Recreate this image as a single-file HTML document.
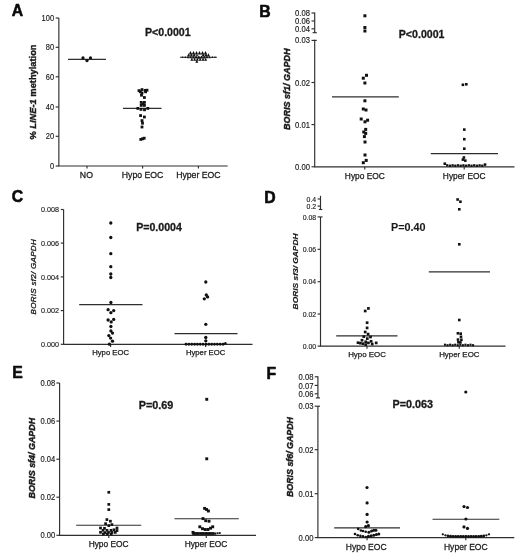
<!DOCTYPE html>
<html><head><meta charset="utf-8"><title>Figure</title>
<style>
html,body{margin:0;padding:0;background:#fff;}
body{width:520px;height:560px;overflow:hidden;font-family:"Liberation Sans",sans-serif;}
svg{display:block;will-change:transform;font-family:"Liberation Sans",sans-serif;}
</style></head><body>
<svg width="520" height="560" viewBox="0 0 520 560">
<rect width="520" height="560" fill="#ffffff"/>
<text transform="translate(11.80,15.90) scale(1,1.09)" font-size="15.8" font-weight="bold" fill="#0a0a0a" stroke="#0a0a0a" stroke-width="0.55" stroke-linejoin="round">A</text>
<line x1="58.85" y1="18.00" x2="58.85" y2="166.00" stroke="#2e2e2e" stroke-width="1.15"/>
<line x1="55.65" y1="18.00" x2="58.85" y2="18.00" stroke="#2e2e2e" stroke-width="1.15"/>
<text transform="translate(54.05,20.95) scale(0.91,1)" font-size="8.2" text-anchor="end" font-weight="normal" font-style="normal" fill="#1a1a1a" stroke="#1a1a1a" stroke-width="0.15" >100</text>
<line x1="55.65" y1="47.30" x2="58.85" y2="47.30" stroke="#2e2e2e" stroke-width="1.15"/>
<text transform="translate(54.05,50.25) scale(0.91,1)" font-size="8.2" text-anchor="end" font-weight="normal" font-style="normal" fill="#1a1a1a" stroke="#1a1a1a" stroke-width="0.15" >80</text>
<line x1="55.65" y1="76.80" x2="58.85" y2="76.80" stroke="#2e2e2e" stroke-width="1.15"/>
<text transform="translate(54.05,79.75) scale(0.91,1)" font-size="8.2" text-anchor="end" font-weight="normal" font-style="normal" fill="#1a1a1a" stroke="#1a1a1a" stroke-width="0.15" >60</text>
<line x1="55.65" y1="107.00" x2="58.85" y2="107.00" stroke="#2e2e2e" stroke-width="1.15"/>
<text transform="translate(54.05,109.95) scale(0.91,1)" font-size="8.2" text-anchor="end" font-weight="normal" font-style="normal" fill="#1a1a1a" stroke="#1a1a1a" stroke-width="0.15" >40</text>
<line x1="55.65" y1="136.30" x2="58.85" y2="136.30" stroke="#2e2e2e" stroke-width="1.15"/>
<text transform="translate(54.05,139.25) scale(0.91,1)" font-size="8.2" text-anchor="end" font-weight="normal" font-style="normal" fill="#1a1a1a" stroke="#1a1a1a" stroke-width="0.15" >20</text>
<line x1="55.65" y1="166.00" x2="58.85" y2="166.00" stroke="#2e2e2e" stroke-width="1.15"/>
<text transform="translate(54.05,168.95) scale(0.91,1)" font-size="8.2" text-anchor="end" font-weight="normal" font-style="normal" fill="#1a1a1a" stroke="#1a1a1a" stroke-width="0.15" >0</text>
<line x1="58.27" y1="166.00" x2="227.60" y2="166.00" stroke="#2e2e2e" stroke-width="1.15"/>
<line x1="87.00" y1="166.00" x2="87.00" y2="168.60" stroke="#2e2e2e" stroke-width="1.15"/>
<text transform="translate(86.40,177.50) scale(1.05,1)" font-size="8.3" text-anchor="middle" font-weight="normal" font-style="normal" fill="#1a1a1a" stroke="#1a1a1a" stroke-width="0.25" >NO</text>
<line x1="142.60" y1="166.00" x2="142.60" y2="168.60" stroke="#2e2e2e" stroke-width="1.15"/>
<text transform="translate(142.60,177.50) scale(1.05,1)" font-size="8.3" text-anchor="middle" font-weight="normal" font-style="normal" fill="#1a1a1a" stroke="#1a1a1a" stroke-width="0.25" >Hypo EOC</text>
<line x1="198.40" y1="166.00" x2="198.40" y2="168.60" stroke="#2e2e2e" stroke-width="1.15"/>
<text transform="translate(198.40,177.50) scale(1.05,1)" font-size="8.3" text-anchor="middle" font-weight="normal" font-style="normal" fill="#1a1a1a" stroke="#1a1a1a" stroke-width="0.25" >Hyper EOC</text>
<text transform="translate(35.55,92.00) rotate(-90) scale(1,1.0)" font-size="9.3" text-anchor="middle" font-weight="bold" font-style="normal" fill="#1a1a1a" stroke="#1a1a1a" stroke-width="0.4" >% <tspan font-style="italic">LINE-1</tspan> methylation</text>
<text transform="translate(145.00,35.60) scale(1.0,1)" font-size="10.6" text-anchor="start" font-weight="bold" font-style="normal" fill="#1a1a1a" stroke="#1a1a1a" stroke-width="0.3" >P&lt;0.0001</text>
<line x1="68.00" y1="59.40" x2="106.00" y2="59.40" stroke="#2e2e2e" stroke-width="1.15"/>
<line x1="123.00" y1="108.40" x2="161.50" y2="108.40" stroke="#2e2e2e" stroke-width="1.15"/>
<line x1="180.00" y1="57.20" x2="217.00" y2="57.20" stroke="#2e2e2e" stroke-width="1.15"/>
<circle cx="83.00" cy="57.90" r="1.65" fill="#111"/>
<circle cx="87.00" cy="60.60" r="1.65" fill="#111"/>
<circle cx="90.50" cy="57.90" r="1.65" fill="#111"/>
<rect x="138.90" y="90.40" width="2.8" height="2.8" fill="#111"/>
<rect x="144.20" y="90.40" width="2.8" height="2.8" fill="#111"/>
<rect x="137.60" y="89.20" width="2.8" height="2.8" fill="#111"/>
<rect x="140.60" y="88.20" width="2.8" height="2.8" fill="#111"/>
<rect x="143.80" y="89.00" width="2.8" height="2.8" fill="#111"/>
<rect x="145.60" y="88.80" width="2.8" height="2.8" fill="#111"/>
<rect x="140.60" y="91.60" width="2.8" height="2.8" fill="#111"/>
<rect x="140.10" y="93.80" width="2.8" height="2.8" fill="#111"/>
<rect x="143.00" y="96.10" width="2.8" height="2.8" fill="#111"/>
<rect x="139.80" y="101.00" width="2.8" height="2.8" fill="#111"/>
<rect x="143.00" y="101.00" width="2.8" height="2.8" fill="#111"/>
<rect x="139.80" y="104.00" width="2.8" height="2.8" fill="#111"/>
<rect x="143.00" y="104.00" width="2.8" height="2.8" fill="#111"/>
<rect x="141.40" y="102.50" width="2.8" height="2.8" fill="#111"/>
<rect x="136.40" y="107.00" width="2.8" height="2.8" fill="#111"/>
<rect x="146.40" y="107.00" width="2.8" height="2.8" fill="#111"/>
<rect x="139.60" y="108.00" width="2.8" height="2.8" fill="#111"/>
<rect x="143.10" y="108.40" width="2.8" height="2.8" fill="#111"/>
<rect x="139.20" y="114.20" width="2.8" height="2.8" fill="#111"/>
<rect x="143.00" y="115.60" width="2.8" height="2.8" fill="#111"/>
<rect x="140.60" y="119.20" width="2.8" height="2.8" fill="#111"/>
<rect x="141.10" y="121.80" width="2.8" height="2.8" fill="#111"/>
<rect x="140.60" y="125.60" width="2.8" height="2.8" fill="#111"/>
<rect x="139.40" y="138.00" width="2.8" height="2.8" fill="#111"/>
<rect x="142.80" y="136.80" width="2.8" height="2.8" fill="#111"/>
<rect x="141.10" y="137.40" width="2.8" height="2.8" fill="#111"/>
<path d="M188.80,54.40 L192.20,54.40 L190.50,51.00 Z" fill="#111"/>
<path d="M191.80,54.40 L195.20,54.40 L193.50,51.00 Z" fill="#111"/>
<path d="M194.80,54.40 L198.20,54.40 L196.50,51.00 Z" fill="#111"/>
<path d="M197.80,54.40 L201.20,54.40 L199.50,51.00 Z" fill="#111"/>
<path d="M200.80,54.40 L204.20,54.40 L202.50,51.00 Z" fill="#111"/>
<path d="M203.80,54.40 L207.20,54.40 L205.50,51.00 Z" fill="#111"/>
<path d="M187.00,56.50 L190.20,56.50 L188.60,53.30 Z" fill="#111"/>
<path d="M189.80,56.50 L193.00,56.50 L191.40,53.30 Z" fill="#111"/>
<path d="M192.60,56.50 L195.80,56.50 L194.20,53.30 Z" fill="#111"/>
<path d="M201.60,56.50 L204.80,56.50 L203.20,53.30 Z" fill="#111"/>
<path d="M204.40,56.50 L207.60,56.50 L206.00,53.30 Z" fill="#111"/>
<path d="M206.80,56.50 L210.00,56.50 L208.40,53.30 Z" fill="#111"/>
<path d="M195.90,56.30 L198.10,56.30 L197.00,54.10 Z" fill="#111"/>
<path d="M181.70,57.90 L183.50,57.90 L182.60,56.10 Z" fill="#111"/>
<path d="M184.27,58.03 L186.33,58.03 L185.30,55.97 Z" fill="#111"/>
<path d="M186.83,58.17 L189.17,58.17 L188.00,55.83 Z" fill="#111"/>
<path d="M189.40,58.30 L192.00,58.30 L190.70,55.70 Z" fill="#111"/>
<path d="M191.97,58.43 L194.83,58.43 L193.40,55.57 Z" fill="#111"/>
<path d="M194.53,58.57 L197.67,58.57 L196.10,55.43 Z" fill="#111"/>
<path d="M197.10,58.70 L200.50,58.70 L198.80,55.30 Z" fill="#111"/>
<path d="M199.93,58.57 L203.07,58.57 L201.50,55.43 Z" fill="#111"/>
<path d="M202.77,58.43 L205.63,58.43 L204.20,55.57 Z" fill="#111"/>
<path d="M205.60,58.30 L208.20,58.30 L206.90,55.70 Z" fill="#111"/>
<path d="M208.43,58.17 L210.77,58.17 L209.60,55.83 Z" fill="#111"/>
<path d="M211.27,58.03 L213.33,58.03 L212.30,55.97 Z" fill="#111"/>
<path d="M214.10,57.90 L215.90,57.90 L215.00,56.10 Z" fill="#111"/>
<path d="M190.30,60.70 L193.30,60.70 L191.80,57.70 Z" fill="#111"/>
<path d="M193.10,60.70 L196.10,60.70 L194.60,57.70 Z" fill="#111"/>
<path d="M195.90,60.70 L198.90,60.70 L197.40,57.70 Z" fill="#111"/>
<path d="M198.70,60.70 L201.70,60.70 L200.20,57.70 Z" fill="#111"/>
<path d="M201.50,60.70 L204.50,60.70 L203.00,57.70 Z" fill="#111"/>
<path d="M204.10,60.70 L207.10,60.70 L205.60,57.70 Z" fill="#111"/>
<path d="M195.30,62.80 L198.30,62.80 L196.80,59.80 Z" fill="#111"/>
<text transform="translate(259.30,16.80) scale(1,1.09)" font-size="15.8" font-weight="bold" fill="#0a0a0a" stroke="#0a0a0a" stroke-width="0.55" stroke-linejoin="round">B</text>
<line x1="314.70" y1="12.40" x2="314.70" y2="32.70" stroke="#2e2e2e" stroke-width="1.15"/>
<line x1="314.70" y1="39.80" x2="314.70" y2="166.80" stroke="#2e2e2e" stroke-width="1.15"/>
<line x1="311.50" y1="13.00" x2="314.70" y2="13.00" stroke="#2e2e2e" stroke-width="1.15"/>
<text transform="translate(309.90,16.02) scale(0.91,1)" font-size="8.4" text-anchor="end" font-weight="normal" font-style="normal" fill="#1a1a1a" stroke="#1a1a1a" stroke-width="0.15" >0.08</text>
<line x1="311.50" y1="21.00" x2="314.70" y2="21.00" stroke="#2e2e2e" stroke-width="1.15"/>
<text transform="translate(309.90,24.02) scale(0.91,1)" font-size="8.4" text-anchor="end" font-weight="normal" font-style="normal" fill="#1a1a1a" stroke="#1a1a1a" stroke-width="0.15" >0.06</text>
<line x1="311.50" y1="28.80" x2="314.70" y2="28.80" stroke="#2e2e2e" stroke-width="1.15"/>
<text transform="translate(309.90,31.82) scale(0.91,1)" font-size="8.4" text-anchor="end" font-weight="normal" font-style="normal" fill="#1a1a1a" stroke="#1a1a1a" stroke-width="0.15" >0.04</text>
<line x1="311.50" y1="40.40" x2="314.70" y2="40.40" stroke="#2e2e2e" stroke-width="1.15"/>
<text transform="translate(309.90,43.42) scale(0.91,1)" font-size="8.4" text-anchor="end" font-weight="normal" font-style="normal" fill="#1a1a1a" stroke="#1a1a1a" stroke-width="0.15" >0.03</text>
<line x1="311.50" y1="82.50" x2="314.70" y2="82.50" stroke="#2e2e2e" stroke-width="1.15"/>
<text transform="translate(309.90,85.52) scale(0.91,1)" font-size="8.4" text-anchor="end" font-weight="normal" font-style="normal" fill="#1a1a1a" stroke="#1a1a1a" stroke-width="0.15" >0.02</text>
<line x1="311.50" y1="124.60" x2="314.70" y2="124.60" stroke="#2e2e2e" stroke-width="1.15"/>
<text transform="translate(309.90,127.62) scale(0.91,1)" font-size="8.4" text-anchor="end" font-weight="normal" font-style="normal" fill="#1a1a1a" stroke="#1a1a1a" stroke-width="0.15" >0.01</text>
<line x1="311.50" y1="166.80" x2="314.70" y2="166.80" stroke="#2e2e2e" stroke-width="1.15"/>
<text transform="translate(309.90,169.82) scale(0.91,1)" font-size="8.4" text-anchor="end" font-weight="normal" font-style="normal" fill="#1a1a1a" stroke="#1a1a1a" stroke-width="0.15" >0.00</text>
<line x1="312.60" y1="32.70" x2="316.80" y2="32.70" stroke="#2e2e2e" stroke-width="1.15"/>
<line x1="314.70" y1="40.40" x2="316.80" y2="40.40" stroke="#2e2e2e" stroke-width="1.15"/>
<line x1="314.12" y1="166.80" x2="514.50" y2="166.80" stroke="#2e2e2e" stroke-width="1.15"/>
<line x1="364.80" y1="166.80" x2="364.80" y2="169.40" stroke="#2e2e2e" stroke-width="1.15"/>
<text transform="translate(364.80,178.70) scale(1.0,1)" font-size="8.35" text-anchor="middle" font-weight="normal" font-style="normal" fill="#1a1a1a" stroke="#1a1a1a" stroke-width="0.25" >Hypo EOC</text>
<line x1="464.20" y1="166.80" x2="464.20" y2="169.40" stroke="#2e2e2e" stroke-width="1.15"/>
<text transform="translate(464.20,178.70) scale(1.0,1)" font-size="8.35" text-anchor="middle" font-weight="normal" font-style="normal" fill="#1a1a1a" stroke="#1a1a1a" stroke-width="0.25" >Hyper EOC</text>
<text transform="translate(289.71,89.20) rotate(-90) scale(1,0.93)" font-size="9.0" text-anchor="middle" font-weight="bold" font-style="italic" fill="#1a1a1a" stroke="#1a1a1a" stroke-width="0.45" >BORIS sf1/ GAPDH</text>
<text transform="translate(398.80,38.00) scale(1.0,1)" font-size="10.6" text-anchor="start" font-weight="bold" font-style="normal" fill="#1a1a1a" stroke="#1a1a1a" stroke-width="0.3" >P&lt;0.0001</text>
<line x1="332.00" y1="96.80" x2="398.80" y2="96.80" stroke="#2e2e2e" stroke-width="1.15"/>
<line x1="430.80" y1="153.60" x2="498.00" y2="153.60" stroke="#2e2e2e" stroke-width="1.15"/>
<rect x="363.40" y="14.30" width="3.0" height="3.0" fill="#111"/>
<rect x="363.40" y="26.00" width="3.0" height="3.0" fill="#111"/>
<rect x="363.40" y="29.50" width="3.0" height="3.0" fill="#111"/>
<rect x="365.00" y="73.80" width="3.0" height="3.0" fill="#111"/>
<rect x="361.80" y="76.70" width="3.0" height="3.0" fill="#111"/>
<rect x="363.40" y="81.50" width="3.0" height="3.0" fill="#111"/>
<rect x="363.40" y="99.30" width="3.0" height="3.0" fill="#111"/>
<rect x="361.80" y="107.50" width="3.0" height="3.0" fill="#111"/>
<rect x="364.50" y="108.50" width="3.0" height="3.0" fill="#111"/>
<rect x="359.70" y="117.50" width="3.0" height="3.0" fill="#111"/>
<rect x="366.10" y="118.70" width="3.0" height="3.0" fill="#111"/>
<rect x="363.50" y="120.30" width="3.0" height="3.0" fill="#111"/>
<rect x="364.20" y="127.90" width="3.0" height="3.0" fill="#111"/>
<rect x="362.30" y="130.50" width="3.0" height="3.0" fill="#111"/>
<rect x="364.20" y="131.90" width="3.0" height="3.0" fill="#111"/>
<rect x="362.90" y="135.10" width="3.0" height="3.0" fill="#111"/>
<rect x="363.50" y="140.50" width="3.0" height="3.0" fill="#111"/>
<rect x="363.50" y="153.50" width="3.0" height="3.0" fill="#111"/>
<rect x="364.70" y="158.90" width="3.0" height="3.0" fill="#111"/>
<rect x="361.80" y="161.20" width="3.0" height="3.0" fill="#111"/>
<rect x="461.60" y="83.50" width="2.6" height="2.6" fill="#111"/>
<rect x="465.00" y="83.00" width="2.6" height="2.6" fill="#111"/>
<rect x="463.00" y="128.30" width="2.6" height="2.6" fill="#111"/>
<rect x="463.00" y="137.90" width="2.6" height="2.6" fill="#111"/>
<rect x="463.00" y="147.40" width="2.6" height="2.6" fill="#111"/>
<rect x="462.60" y="156.20" width="2.6" height="2.6" fill="#111"/>
<rect x="461.60" y="158.30" width="2.6" height="2.6" fill="#111"/>
<rect x="464.00" y="159.30" width="2.6" height="2.6" fill="#111"/>
<rect x="443.50" y="162.40" width="2.6" height="2.6" fill="#111"/>
<rect x="483.70" y="163.30" width="2.6" height="2.6" fill="#111"/>
<rect x="446.05" y="164.20" width="2.3" height="2.3" fill="#111"/>
<rect x="448.75" y="164.60" width="2.3" height="2.3" fill="#111"/>
<rect x="451.45" y="164.20" width="2.3" height="2.3" fill="#111"/>
<rect x="454.15" y="164.60" width="2.3" height="2.3" fill="#111"/>
<rect x="456.85" y="164.20" width="2.3" height="2.3" fill="#111"/>
<rect x="459.55" y="164.60" width="2.3" height="2.3" fill="#111"/>
<rect x="462.25" y="164.20" width="2.3" height="2.3" fill="#111"/>
<rect x="464.95" y="164.60" width="2.3" height="2.3" fill="#111"/>
<rect x="467.65" y="164.20" width="2.3" height="2.3" fill="#111"/>
<rect x="470.35" y="164.60" width="2.3" height="2.3" fill="#111"/>
<rect x="473.05" y="164.20" width="2.3" height="2.3" fill="#111"/>
<rect x="475.75" y="164.60" width="2.3" height="2.3" fill="#111"/>
<rect x="478.45" y="164.20" width="2.3" height="2.3" fill="#111"/>
<rect x="481.15" y="164.60" width="2.3" height="2.3" fill="#111"/>
<text transform="translate(11.80,201.70) scale(1,1.09)" font-size="15.8" font-weight="bold" fill="#0a0a0a" stroke="#0a0a0a" stroke-width="0.55" stroke-linejoin="round">C</text>
<line x1="63.60" y1="209.50" x2="63.60" y2="344.30" stroke="#2e2e2e" stroke-width="1.15"/>
<line x1="60.80" y1="209.50" x2="63.60" y2="209.50" stroke="#2e2e2e" stroke-width="1.15"/>
<text transform="translate(58.90,212.38) scale(0.9,1)" font-size="8.0" text-anchor="end" font-weight="normal" font-style="normal" fill="#1a1a1a" stroke="#1a1a1a" stroke-width="0.15" >0.008</text>
<line x1="60.80" y1="243.10" x2="63.60" y2="243.10" stroke="#2e2e2e" stroke-width="1.15"/>
<text transform="translate(58.90,245.98) scale(0.9,1)" font-size="8.0" text-anchor="end" font-weight="normal" font-style="normal" fill="#1a1a1a" stroke="#1a1a1a" stroke-width="0.15" >0.006</text>
<line x1="60.80" y1="276.90" x2="63.60" y2="276.90" stroke="#2e2e2e" stroke-width="1.15"/>
<text transform="translate(58.90,279.78) scale(0.9,1)" font-size="8.0" text-anchor="end" font-weight="normal" font-style="normal" fill="#1a1a1a" stroke="#1a1a1a" stroke-width="0.15" >0.004</text>
<line x1="60.80" y1="310.60" x2="63.60" y2="310.60" stroke="#2e2e2e" stroke-width="1.15"/>
<text transform="translate(58.90,313.48) scale(0.9,1)" font-size="8.0" text-anchor="end" font-weight="normal" font-style="normal" fill="#1a1a1a" stroke="#1a1a1a" stroke-width="0.15" >0.002</text>
<line x1="60.80" y1="344.30" x2="63.60" y2="344.30" stroke="#2e2e2e" stroke-width="1.15"/>
<text transform="translate(58.90,347.18) scale(0.9,1)" font-size="8.0" text-anchor="end" font-weight="normal" font-style="normal" fill="#1a1a1a" stroke="#1a1a1a" stroke-width="0.15" >0.000</text>
<line x1="63.12" y1="344.40" x2="252.50" y2="344.40" stroke="#2e2e2e" stroke-width="1.15"/>
<line x1="110.60" y1="344.40" x2="110.60" y2="347.00" stroke="#2e2e2e" stroke-width="1.15"/>
<text transform="translate(110.60,355.20) scale(1.0,1)" font-size="7.7" text-anchor="middle" font-weight="normal" font-style="normal" fill="#1a1a1a" stroke="#1a1a1a" stroke-width="0.25" >Hypo EOC</text>
<line x1="205.60" y1="344.40" x2="205.60" y2="347.00" stroke="#2e2e2e" stroke-width="1.15"/>
<text transform="translate(205.60,355.20) scale(1.0,1)" font-size="7.7" text-anchor="middle" font-weight="normal" font-style="normal" fill="#1a1a1a" stroke="#1a1a1a" stroke-width="0.25" >Hyper EOC</text>
<text transform="translate(36.19,276.90) rotate(-90) scale(1,0.9)" font-size="8.0" text-anchor="middle" font-weight="normal" font-style="italic" fill="#1a1a1a" stroke="#1a1a1a" stroke-width="0.35" textLength="75.2">BORIS sf2/ GAPDH</text>
<text transform="translate(136.20,231.30) scale(1.0,1)" font-size="10.6" text-anchor="start" font-weight="bold" font-style="normal" fill="#1a1a1a" stroke="#1a1a1a" stroke-width="0.3" >P=0.0004</text>
<line x1="79.20" y1="304.60" x2="142.50" y2="304.60" stroke="#2e2e2e" stroke-width="1.15"/>
<line x1="174.50" y1="333.60" x2="237.50" y2="333.60" stroke="#2e2e2e" stroke-width="1.15"/>
<circle cx="110.80" cy="223.00" r="1.65" fill="#111"/>
<circle cx="110.80" cy="237.50" r="1.65" fill="#111"/>
<circle cx="110.80" cy="253.70" r="1.65" fill="#111"/>
<circle cx="110.80" cy="266.70" r="1.65" fill="#111"/>
<circle cx="110.80" cy="274.00" r="1.65" fill="#111"/>
<circle cx="110.80" cy="277.50" r="1.65" fill="#111"/>
<circle cx="110.90" cy="302.50" r="1.65" fill="#111"/>
<circle cx="108.10" cy="309.70" r="1.65" fill="#111"/>
<circle cx="113.70" cy="310.60" r="1.65" fill="#111"/>
<circle cx="110.90" cy="312.70" r="1.65" fill="#111"/>
<circle cx="108.10" cy="320.00" r="1.65" fill="#111"/>
<circle cx="113.70" cy="319.40" r="1.65" fill="#111"/>
<circle cx="111.20" cy="321.90" r="1.65" fill="#111"/>
<circle cx="110.90" cy="326.50" r="1.65" fill="#111"/>
<circle cx="110.90" cy="330.90" r="1.65" fill="#111"/>
<circle cx="112.50" cy="333.10" r="1.65" fill="#111"/>
<circle cx="108.80" cy="335.60" r="1.65" fill="#111"/>
<circle cx="110.60" cy="338.10" r="1.65" fill="#111"/>
<circle cx="112.50" cy="341.20" r="1.65" fill="#111"/>
<circle cx="109.40" cy="344.20" r="1.65" fill="#111"/>
<circle cx="205.80" cy="282.00" r="1.65" fill="#111"/>
<circle cx="206.30" cy="295.00" r="1.65" fill="#111"/>
<circle cx="207.60" cy="296.90" r="1.65" fill="#111"/>
<circle cx="204.30" cy="298.80" r="1.65" fill="#111"/>
<circle cx="205.80" cy="324.30" r="1.65" fill="#111"/>
<circle cx="205.80" cy="337.50" r="1.65" fill="#111"/>
<circle cx="205.80" cy="340.80" r="1.65" fill="#111"/>
<circle cx="225.40" cy="343.20" r="1.2" fill="#111"/>
<circle cx="186.00" cy="344.20" r="1.45" fill="#111"/>
<circle cx="188.85" cy="344.20" r="1.45" fill="#111"/>
<circle cx="191.70" cy="344.20" r="1.45" fill="#111"/>
<circle cx="194.55" cy="344.20" r="1.45" fill="#111"/>
<circle cx="197.40" cy="344.20" r="1.45" fill="#111"/>
<circle cx="200.25" cy="344.20" r="1.45" fill="#111"/>
<circle cx="203.10" cy="344.20" r="1.45" fill="#111"/>
<circle cx="205.95" cy="344.20" r="1.45" fill="#111"/>
<circle cx="208.80" cy="344.20" r="1.45" fill="#111"/>
<circle cx="211.65" cy="344.20" r="1.45" fill="#111"/>
<circle cx="214.50" cy="344.20" r="1.45" fill="#111"/>
<circle cx="217.35" cy="344.20" r="1.45" fill="#111"/>
<circle cx="220.20" cy="344.20" r="1.45" fill="#111"/>
<circle cx="223.05" cy="344.20" r="1.45" fill="#111"/>
<text transform="translate(264.20,202.70) scale(1,1.09)" font-size="15.8" font-weight="bold" fill="#0a0a0a" stroke="#0a0a0a" stroke-width="0.55" stroke-linejoin="round">D</text>
<line x1="320.50" y1="195.80" x2="320.50" y2="209.50" stroke="#2e2e2e" stroke-width="1.15"/>
<line x1="320.50" y1="216.90" x2="320.50" y2="346.10" stroke="#2e2e2e" stroke-width="1.15"/>
<line x1="317.60" y1="199.00" x2="320.50" y2="199.00" stroke="#2e2e2e" stroke-width="1.15"/>
<text transform="translate(316.20,201.77) scale(0.9,1)" font-size="7.7" text-anchor="end" font-weight="normal" font-style="normal" fill="#1a1a1a" stroke="#1a1a1a" stroke-width="0.15" >0.4</text>
<line x1="317.60" y1="206.10" x2="320.50" y2="206.10" stroke="#2e2e2e" stroke-width="1.15"/>
<text transform="translate(316.20,208.87) scale(0.9,1)" font-size="7.7" text-anchor="end" font-weight="normal" font-style="normal" fill="#1a1a1a" stroke="#1a1a1a" stroke-width="0.15" >0.2</text>
<line x1="317.60" y1="216.90" x2="320.50" y2="216.90" stroke="#2e2e2e" stroke-width="1.15"/>
<text transform="translate(316.20,219.67) scale(0.9,1)" font-size="7.7" text-anchor="end" font-weight="normal" font-style="normal" fill="#1a1a1a" stroke="#1a1a1a" stroke-width="0.15" >0.08</text>
<line x1="317.60" y1="249.30" x2="320.50" y2="249.30" stroke="#2e2e2e" stroke-width="1.15"/>
<text transform="translate(316.20,252.07) scale(0.9,1)" font-size="7.7" text-anchor="end" font-weight="normal" font-style="normal" fill="#1a1a1a" stroke="#1a1a1a" stroke-width="0.15" >0.06</text>
<line x1="317.60" y1="281.70" x2="320.50" y2="281.70" stroke="#2e2e2e" stroke-width="1.15"/>
<text transform="translate(316.20,284.47) scale(0.9,1)" font-size="7.7" text-anchor="end" font-weight="normal" font-style="normal" fill="#1a1a1a" stroke="#1a1a1a" stroke-width="0.15" >0.04</text>
<line x1="317.60" y1="314.00" x2="320.50" y2="314.00" stroke="#2e2e2e" stroke-width="1.15"/>
<text transform="translate(316.20,316.77) scale(0.9,1)" font-size="7.7" text-anchor="end" font-weight="normal" font-style="normal" fill="#1a1a1a" stroke="#1a1a1a" stroke-width="0.15" >0.02</text>
<line x1="317.60" y1="346.10" x2="320.50" y2="346.10" stroke="#2e2e2e" stroke-width="1.15"/>
<text transform="translate(316.20,348.87) scale(0.9,1)" font-size="7.7" text-anchor="end" font-weight="normal" font-style="normal" fill="#1a1a1a" stroke="#1a1a1a" stroke-width="0.15" >0.00</text>
<line x1="318.90" y1="209.50" x2="322.30" y2="209.50" stroke="#2e2e2e" stroke-width="1.15"/>
<line x1="320.50" y1="216.90" x2="322.50" y2="216.90" stroke="#2e2e2e" stroke-width="1.15"/>
<line x1="319.93" y1="346.10" x2="505.50" y2="346.10" stroke="#2e2e2e" stroke-width="1.15"/>
<line x1="367.00" y1="346.10" x2="367.00" y2="348.70" stroke="#2e2e2e" stroke-width="1.15"/>
<text transform="translate(367.00,356.50) scale(1.0,1)" font-size="7.9" text-anchor="middle" font-weight="normal" font-style="normal" fill="#1a1a1a" stroke="#1a1a1a" stroke-width="0.25" >Hypo EOC</text>
<line x1="459.30" y1="346.10" x2="459.30" y2="348.70" stroke="#2e2e2e" stroke-width="1.15"/>
<text transform="translate(459.30,356.50) scale(1.0,1)" font-size="7.9" text-anchor="middle" font-weight="normal" font-style="normal" fill="#1a1a1a" stroke="#1a1a1a" stroke-width="0.25" >Hyper EOC</text>
<text transform="translate(298.13,271.40) rotate(-90) scale(1,0.87)" font-size="8.4" text-anchor="middle" font-weight="bold" font-style="italic" fill="#1a1a1a" stroke="#1a1a1a" stroke-width="0.2" >BORIS sf3/ GAPDH</text>
<text transform="translate(391.00,230.90) scale(1.0,1)" font-size="10.8" text-anchor="start" font-weight="bold" font-style="normal" fill="#1a1a1a" stroke="#1a1a1a" stroke-width="0.1" >P=0.40</text>
<line x1="336.20" y1="335.90" x2="397.50" y2="335.90" stroke="#2e2e2e" stroke-width="1.15"/>
<line x1="428.80" y1="271.80" x2="490.00" y2="271.80" stroke="#2e2e2e" stroke-width="1.15"/>
<rect x="367.05" y="307.05" width="2.7" height="2.7" fill="#111"/>
<rect x="363.85" y="309.65" width="2.7" height="2.7" fill="#111"/>
<rect x="365.75" y="321.35" width="2.7" height="2.7" fill="#111"/>
<rect x="365.75" y="326.55" width="2.7" height="2.7" fill="#111"/>
<rect x="363.85" y="330.65" width="2.7" height="2.7" fill="#111"/>
<rect x="366.75" y="332.75" width="2.7" height="2.7" fill="#111"/>
<rect x="362.45" y="335.25" width="2.7" height="2.7" fill="#111"/>
<rect x="369.15" y="335.65" width="2.7" height="2.7" fill="#111"/>
<rect x="365.95" y="337.25" width="2.7" height="2.7" fill="#111"/>
<rect x="360.65" y="338.85" width="2.7" height="2.7" fill="#111"/>
<rect x="369.75" y="339.95" width="2.7" height="2.7" fill="#111"/>
<rect x="364.35" y="340.45" width="2.7" height="2.7" fill="#111"/>
<rect x="356.65" y="341.35" width="2.7" height="2.7" fill="#111"/>
<rect x="374.85" y="341.55" width="2.7" height="2.7" fill="#111"/>
<rect x="367.05" y="341.55" width="2.7" height="2.7" fill="#111"/>
<rect x="361.65" y="342.35" width="2.7" height="2.7" fill="#111"/>
<rect x="370.85" y="342.65" width="2.7" height="2.7" fill="#111"/>
<rect x="364.35" y="343.25" width="2.7" height="2.7" fill="#111"/>
<rect x="359.05" y="341.85" width="2.7" height="2.7" fill="#111"/>
<rect x="456.30" y="198.20" width="2.6" height="2.6" fill="#111"/>
<rect x="459.10" y="200.40" width="2.6" height="2.6" fill="#111"/>
<rect x="458.00" y="208.00" width="2.6" height="2.6" fill="#111"/>
<rect x="458.00" y="243.00" width="2.6" height="2.6" fill="#111"/>
<rect x="458.00" y="318.70" width="2.6" height="2.6" fill="#111"/>
<rect x="456.60" y="332.00" width="2.6" height="2.6" fill="#111"/>
<rect x="459.40" y="332.40" width="2.6" height="2.6" fill="#111"/>
<rect x="459.70" y="335.50" width="2.6" height="2.6" fill="#111"/>
<rect x="456.70" y="338.30" width="2.6" height="2.6" fill="#111"/>
<rect x="460.10" y="338.50" width="2.6" height="2.6" fill="#111"/>
<rect x="457.10" y="341.00" width="2.6" height="2.6" fill="#111"/>
<rect x="459.10" y="341.10" width="2.6" height="2.6" fill="#111"/>
<rect x="443.95" y="343.65" width="2.1" height="2.1" fill="#111"/>
<rect x="446.50" y="344.15" width="2.1" height="2.1" fill="#111"/>
<rect x="449.05" y="343.65" width="2.1" height="2.1" fill="#111"/>
<rect x="451.60" y="344.15" width="2.1" height="2.1" fill="#111"/>
<rect x="454.15" y="343.65" width="2.1" height="2.1" fill="#111"/>
<rect x="456.70" y="344.15" width="2.1" height="2.1" fill="#111"/>
<rect x="459.25" y="343.65" width="2.1" height="2.1" fill="#111"/>
<rect x="461.80" y="344.15" width="2.1" height="2.1" fill="#111"/>
<rect x="464.35" y="343.65" width="2.1" height="2.1" fill="#111"/>
<rect x="466.90" y="344.15" width="2.1" height="2.1" fill="#111"/>
<rect x="469.45" y="343.65" width="2.1" height="2.1" fill="#111"/>
<rect x="472.00" y="344.15" width="2.1" height="2.1" fill="#111"/>
<text transform="translate(12.20,378.40) scale(1,1.09)" font-size="15.8" font-weight="bold" fill="#0a0a0a" stroke="#0a0a0a" stroke-width="0.55" stroke-linejoin="round">E</text>
<line x1="59.60" y1="383.00" x2="59.60" y2="535.30" stroke="#2e2e2e" stroke-width="1.15"/>
<line x1="56.40" y1="383.00" x2="59.60" y2="383.00" stroke="#2e2e2e" stroke-width="1.15"/>
<text transform="translate(55.20,386.10) scale(0.88,1)" font-size="8.6" text-anchor="end" font-weight="normal" font-style="normal" fill="#1a1a1a" stroke="#1a1a1a" stroke-width="0.15" >0.08</text>
<line x1="56.40" y1="421.10" x2="59.60" y2="421.10" stroke="#2e2e2e" stroke-width="1.15"/>
<text transform="translate(55.20,424.20) scale(0.88,1)" font-size="8.6" text-anchor="end" font-weight="normal" font-style="normal" fill="#1a1a1a" stroke="#1a1a1a" stroke-width="0.15" >0.06</text>
<line x1="56.40" y1="459.20" x2="59.60" y2="459.20" stroke="#2e2e2e" stroke-width="1.15"/>
<text transform="translate(55.20,462.30) scale(0.88,1)" font-size="8.6" text-anchor="end" font-weight="normal" font-style="normal" fill="#1a1a1a" stroke="#1a1a1a" stroke-width="0.15" >0.04</text>
<line x1="56.40" y1="497.20" x2="59.60" y2="497.20" stroke="#2e2e2e" stroke-width="1.15"/>
<text transform="translate(55.20,500.30) scale(0.88,1)" font-size="8.6" text-anchor="end" font-weight="normal" font-style="normal" fill="#1a1a1a" stroke="#1a1a1a" stroke-width="0.15" >0.02</text>
<line x1="56.40" y1="535.30" x2="59.60" y2="535.30" stroke="#2e2e2e" stroke-width="1.15"/>
<text transform="translate(55.20,538.40) scale(0.88,1)" font-size="8.6" text-anchor="end" font-weight="normal" font-style="normal" fill="#1a1a1a" stroke="#1a1a1a" stroke-width="0.15" >0.00</text>
<line x1="59.02" y1="535.30" x2="256.00" y2="535.30" stroke="#2e2e2e" stroke-width="1.15"/>
<line x1="108.80" y1="535.30" x2="108.80" y2="537.90" stroke="#2e2e2e" stroke-width="1.15"/>
<text transform="translate(108.60,547.00) scale(1.0,1)" font-size="8.35" text-anchor="middle" font-weight="normal" font-style="normal" fill="#1a1a1a" stroke="#1a1a1a" stroke-width="0.25" >Hypo EOC</text>
<line x1="206.30" y1="535.30" x2="206.30" y2="537.90" stroke="#2e2e2e" stroke-width="1.15"/>
<text transform="translate(206.00,547.00) scale(1.0,1)" font-size="8.35" text-anchor="middle" font-weight="normal" font-style="normal" fill="#1a1a1a" stroke="#1a1a1a" stroke-width="0.25" >Hyper EOC</text>
<text transform="translate(35.24,458.20) rotate(-90) scale(1,0.95)" font-size="8.9" text-anchor="middle" font-weight="bold" font-style="italic" fill="#1a1a1a" stroke="#1a1a1a" stroke-width="0.45" >BORIS sf4/ GAPDH</text>
<text transform="translate(138.80,409.30) scale(1.0,1)" font-size="10.8" text-anchor="start" font-weight="bold" font-style="normal" fill="#1a1a1a" stroke="#1a1a1a" stroke-width="0.3" >P=0.69</text>
<line x1="76.20" y1="525.20" x2="141.20" y2="525.20" stroke="#2e2e2e" stroke-width="1.15"/>
<line x1="174.50" y1="518.70" x2="238.80" y2="518.70" stroke="#2e2e2e" stroke-width="1.15"/>
<rect x="107.45" y="490.95" width="2.7" height="2.7" fill="#111"/>
<rect x="107.45" y="503.05" width="2.7" height="2.7" fill="#111"/>
<rect x="107.45" y="508.25" width="2.7" height="2.7" fill="#111"/>
<rect x="105.55" y="518.25" width="2.7" height="2.7" fill="#111"/>
<rect x="109.05" y="519.85" width="2.7" height="2.7" fill="#111"/>
<rect x="104.25" y="522.35" width="2.7" height="2.7" fill="#111"/>
<rect x="110.55" y="523.25" width="2.7" height="2.7" fill="#111"/>
<rect x="107.45" y="524.25" width="2.7" height="2.7" fill="#111"/>
<rect x="99.15" y="526.65" width="2.7" height="2.7" fill="#111"/>
<rect x="103.15" y="526.95" width="2.7" height="2.7" fill="#111"/>
<rect x="115.65" y="526.65" width="2.7" height="2.7" fill="#111"/>
<rect x="101.65" y="528.95" width="2.7" height="2.7" fill="#111"/>
<rect x="105.65" y="528.95" width="2.7" height="2.7" fill="#111"/>
<rect x="109.65" y="528.95" width="2.7" height="2.7" fill="#111"/>
<rect x="112.65" y="528.45" width="2.7" height="2.7" fill="#111"/>
<rect x="115.65" y="529.25" width="2.7" height="2.7" fill="#111"/>
<rect x="99.15" y="530.95" width="2.7" height="2.7" fill="#111"/>
<rect x="103.65" y="531.25" width="2.7" height="2.7" fill="#111"/>
<rect x="107.15" y="531.05" width="2.7" height="2.7" fill="#111"/>
<rect x="110.65" y="531.05" width="2.7" height="2.7" fill="#111"/>
<rect x="113.95" y="531.05" width="2.7" height="2.7" fill="#111"/>
<rect x="102.05" y="532.55" width="2.7" height="2.7" fill="#111"/>
<rect x="106.05" y="532.65" width="2.7" height="2.7" fill="#111"/>
<rect x="109.85" y="532.65" width="2.7" height="2.7" fill="#111"/>
<rect x="205.30" y="397.85" width="2.9" height="2.9" fill="#111"/>
<rect x="205.30" y="457.35" width="2.9" height="2.9" fill="#111"/>
<rect x="203.15" y="506.95" width="2.9" height="2.9" fill="#111"/>
<rect x="205.15" y="508.05" width="2.9" height="2.9" fill="#111"/>
<rect x="206.95" y="509.55" width="2.9" height="2.9" fill="#111"/>
<rect x="201.55" y="517.15" width="2.9" height="2.9" fill="#111"/>
<rect x="204.25" y="519.25" width="2.9" height="2.9" fill="#111"/>
<rect x="207.55" y="519.75" width="2.9" height="2.9" fill="#111"/>
<rect x="198.35" y="525.35" width="2.9" height="2.9" fill="#111"/>
<rect x="201.05" y="527.25" width="2.9" height="2.9" fill="#111"/>
<rect x="203.75" y="528.05" width="2.9" height="2.9" fill="#111"/>
<rect x="206.45" y="528.05" width="2.9" height="2.9" fill="#111"/>
<rect x="209.05" y="526.75" width="2.9" height="2.9" fill="#111"/>
<rect x="211.25" y="525.35" width="2.9" height="2.9" fill="#111"/>
<rect x="191.55" y="530.95" width="2.9" height="2.9" fill="#111"/>
<rect x="192.20" y="532.10" width="2.8" height="2.8" fill="#111"/>
<rect x="194.60" y="532.10" width="2.8" height="2.8" fill="#111"/>
<rect x="197.00" y="532.10" width="2.8" height="2.8" fill="#111"/>
<rect x="199.40" y="532.10" width="2.8" height="2.8" fill="#111"/>
<rect x="201.80" y="532.10" width="2.8" height="2.8" fill="#111"/>
<rect x="204.20" y="532.10" width="2.8" height="2.8" fill="#111"/>
<rect x="206.60" y="532.10" width="2.8" height="2.8" fill="#111"/>
<rect x="209.00" y="532.10" width="2.8" height="2.8" fill="#111"/>
<rect x="211.40" y="532.10" width="2.8" height="2.8" fill="#111"/>
<rect x="214.10" y="532.50" width="2.2" height="2.2" fill="#111"/>
<rect x="216.70" y="532.30" width="1.8" height="1.8" fill="#111"/>
<rect x="218.90" y="532.10" width="1.8" height="1.8" fill="#111"/>
<text transform="translate(266.50,379.40) scale(1,1.09)" font-size="15.8" font-weight="bold" fill="#0a0a0a" stroke="#0a0a0a" stroke-width="0.55" stroke-linejoin="round">F</text>
<line x1="317.90" y1="376.30" x2="317.90" y2="397.90" stroke="#2e2e2e" stroke-width="1.15"/>
<line x1="317.90" y1="406.20" x2="317.90" y2="537.60" stroke="#2e2e2e" stroke-width="1.15"/>
<line x1="314.70" y1="376.80" x2="317.90" y2="376.80" stroke="#2e2e2e" stroke-width="1.15"/>
<text transform="translate(313.50,379.93) scale(0.88,1)" font-size="8.7" text-anchor="end" font-weight="normal" font-style="normal" fill="#1a1a1a" stroke="#1a1a1a" stroke-width="0.15" >0.08</text>
<line x1="314.70" y1="385.40" x2="317.90" y2="385.40" stroke="#2e2e2e" stroke-width="1.15"/>
<text transform="translate(313.50,388.53) scale(0.88,1)" font-size="8.7" text-anchor="end" font-weight="normal" font-style="normal" fill="#1a1a1a" stroke="#1a1a1a" stroke-width="0.15" >0.07</text>
<line x1="314.70" y1="393.80" x2="317.90" y2="393.80" stroke="#2e2e2e" stroke-width="1.15"/>
<text transform="translate(313.50,396.93) scale(0.88,1)" font-size="8.7" text-anchor="end" font-weight="normal" font-style="normal" fill="#1a1a1a" stroke="#1a1a1a" stroke-width="0.15" >0.06</text>
<line x1="314.70" y1="406.20" x2="317.90" y2="406.20" stroke="#2e2e2e" stroke-width="1.15"/>
<text transform="translate(313.50,409.33) scale(0.88,1)" font-size="8.7" text-anchor="end" font-weight="normal" font-style="normal" fill="#1a1a1a" stroke="#1a1a1a" stroke-width="0.15" >0.03</text>
<line x1="314.70" y1="449.70" x2="317.90" y2="449.70" stroke="#2e2e2e" stroke-width="1.15"/>
<text transform="translate(313.50,452.83) scale(0.88,1)" font-size="8.7" text-anchor="end" font-weight="normal" font-style="normal" fill="#1a1a1a" stroke="#1a1a1a" stroke-width="0.15" >0.02</text>
<line x1="314.70" y1="493.70" x2="317.90" y2="493.70" stroke="#2e2e2e" stroke-width="1.15"/>
<text transform="translate(313.50,496.83) scale(0.88,1)" font-size="8.7" text-anchor="end" font-weight="normal" font-style="normal" fill="#1a1a1a" stroke="#1a1a1a" stroke-width="0.15" >0.01</text>
<line x1="314.70" y1="537.60" x2="317.90" y2="537.60" stroke="#2e2e2e" stroke-width="1.15"/>
<text transform="translate(313.50,540.73) scale(0.88,1)" font-size="8.7" text-anchor="end" font-weight="normal" font-style="normal" fill="#1a1a1a" stroke="#1a1a1a" stroke-width="0.15" >0.00</text>
<line x1="315.80" y1="397.90" x2="320.00" y2="397.90" stroke="#2e2e2e" stroke-width="1.15"/>
<line x1="317.90" y1="406.20" x2="320.00" y2="406.20" stroke="#2e2e2e" stroke-width="1.15"/>
<line x1="317.32" y1="537.60" x2="514.30" y2="537.60" stroke="#2e2e2e" stroke-width="1.15"/>
<line x1="367.10" y1="537.60" x2="367.10" y2="540.20" stroke="#2e2e2e" stroke-width="1.15"/>
<text transform="translate(366.20,549.80) scale(1.02,1)" font-size="8.4" text-anchor="middle" font-weight="normal" font-style="normal" fill="#1a1a1a" stroke="#1a1a1a" stroke-width="0.25" >Hypo EOC</text>
<line x1="465.80" y1="537.60" x2="465.80" y2="540.20" stroke="#2e2e2e" stroke-width="1.15"/>
<text transform="translate(465.80,549.80) scale(1.02,1)" font-size="8.4" text-anchor="middle" font-weight="normal" font-style="normal" fill="#1a1a1a" stroke="#1a1a1a" stroke-width="0.25" >Hyper EOC</text>
<text transform="translate(293.06,457.00) rotate(-90) scale(1,0.93)" font-size="8.85" text-anchor="middle" font-weight="bold" font-style="italic" fill="#1a1a1a" stroke="#1a1a1a" stroke-width="0.45" >BORIS sf6/ GAPDH</text>
<text transform="translate(392.50,408.30) scale(1.0,1)" font-size="10.8" text-anchor="start" font-weight="bold" font-style="normal" fill="#1a1a1a" stroke="#1a1a1a" stroke-width="0.3" >P=0.063</text>
<line x1="334.20" y1="527.80" x2="400.00" y2="527.80" stroke="#2e2e2e" stroke-width="1.15"/>
<line x1="432.50" y1="519.20" x2="499.30" y2="519.20" stroke="#2e2e2e" stroke-width="1.15"/>
<circle cx="367.00" cy="487.50" r="1.6" fill="#111"/>
<circle cx="367.10" cy="502.90" r="1.6" fill="#111"/>
<circle cx="367.10" cy="514.40" r="1.6" fill="#111"/>
<circle cx="367.10" cy="522.00" r="1.6" fill="#111"/>
<circle cx="365.70" cy="526.60" r="1.6" fill="#111"/>
<circle cx="368.40" cy="525.70" r="1.6" fill="#111"/>
<circle cx="358.20" cy="528.90" r="1.3" fill="#111"/>
<circle cx="360.90" cy="530.50" r="1.3" fill="#111"/>
<circle cx="363.00" cy="531.00" r="1.3" fill="#111"/>
<circle cx="365.70" cy="531.80" r="1.3" fill="#111"/>
<circle cx="368.90" cy="532.20" r="1.55" fill="#111"/>
<circle cx="371.60" cy="531.00" r="1.55" fill="#111"/>
<circle cx="373.80" cy="530.30" r="1.55" fill="#111"/>
<circle cx="375.90" cy="530.30" r="1.55" fill="#111"/>
<circle cx="355.00" cy="534.00" r="1.3" fill="#111"/>
<circle cx="357.70" cy="535.20" r="1.3" fill="#111"/>
<circle cx="360.40" cy="535.90" r="1.3" fill="#111"/>
<circle cx="363.00" cy="536.40" r="1.3" fill="#111"/>
<circle cx="365.70" cy="537.00" r="1.3" fill="#111"/>
<circle cx="368.40" cy="536.40" r="1.55" fill="#111"/>
<circle cx="371.10" cy="535.90" r="1.55" fill="#111"/>
<circle cx="373.80" cy="535.20" r="1.55" fill="#111"/>
<circle cx="376.40" cy="534.50" r="1.55" fill="#111"/>
<circle cx="378.80" cy="534.00" r="1.55" fill="#111"/>
<circle cx="465.80" cy="392.00" r="1.6" fill="#111"/>
<circle cx="464.00" cy="506.60" r="1.6" fill="#111"/>
<circle cx="467.50" cy="507.50" r="1.6" fill="#111"/>
<circle cx="465.90" cy="519.00" r="1.6" fill="#111"/>
<circle cx="464.00" cy="526.90" r="1.6" fill="#111"/>
<circle cx="467.50" cy="528.40" r="1.6" fill="#111"/>
<circle cx="442.80" cy="534.30" r="1.15" fill="#111"/>
<circle cx="445.37" cy="535.28" r="1.15" fill="#111"/>
<circle cx="447.93" cy="535.87" r="1.45" fill="#111"/>
<circle cx="450.50" cy="536.21" r="1.45" fill="#111"/>
<circle cx="453.07" cy="536.38" r="1.45" fill="#111"/>
<circle cx="455.63" cy="536.46" r="1.45" fill="#111"/>
<circle cx="458.20" cy="536.49" r="1.45" fill="#111"/>
<circle cx="460.77" cy="536.50" r="1.45" fill="#111"/>
<circle cx="463.33" cy="536.50" r="1.45" fill="#111"/>
<circle cx="465.90" cy="536.50" r="1.45" fill="#111"/>
<circle cx="468.47" cy="536.50" r="1.45" fill="#111"/>
<circle cx="471.03" cy="536.50" r="1.45" fill="#111"/>
<circle cx="473.60" cy="536.49" r="1.45" fill="#111"/>
<circle cx="476.17" cy="536.46" r="1.45" fill="#111"/>
<circle cx="478.73" cy="536.38" r="1.45" fill="#111"/>
<circle cx="481.30" cy="536.21" r="1.45" fill="#111"/>
<circle cx="483.87" cy="535.87" r="1.45" fill="#111"/>
<circle cx="486.43" cy="535.28" r="1.15" fill="#111"/>
<circle cx="489.00" cy="534.30" r="1.15" fill="#111"/>
</svg>
</body></html>
